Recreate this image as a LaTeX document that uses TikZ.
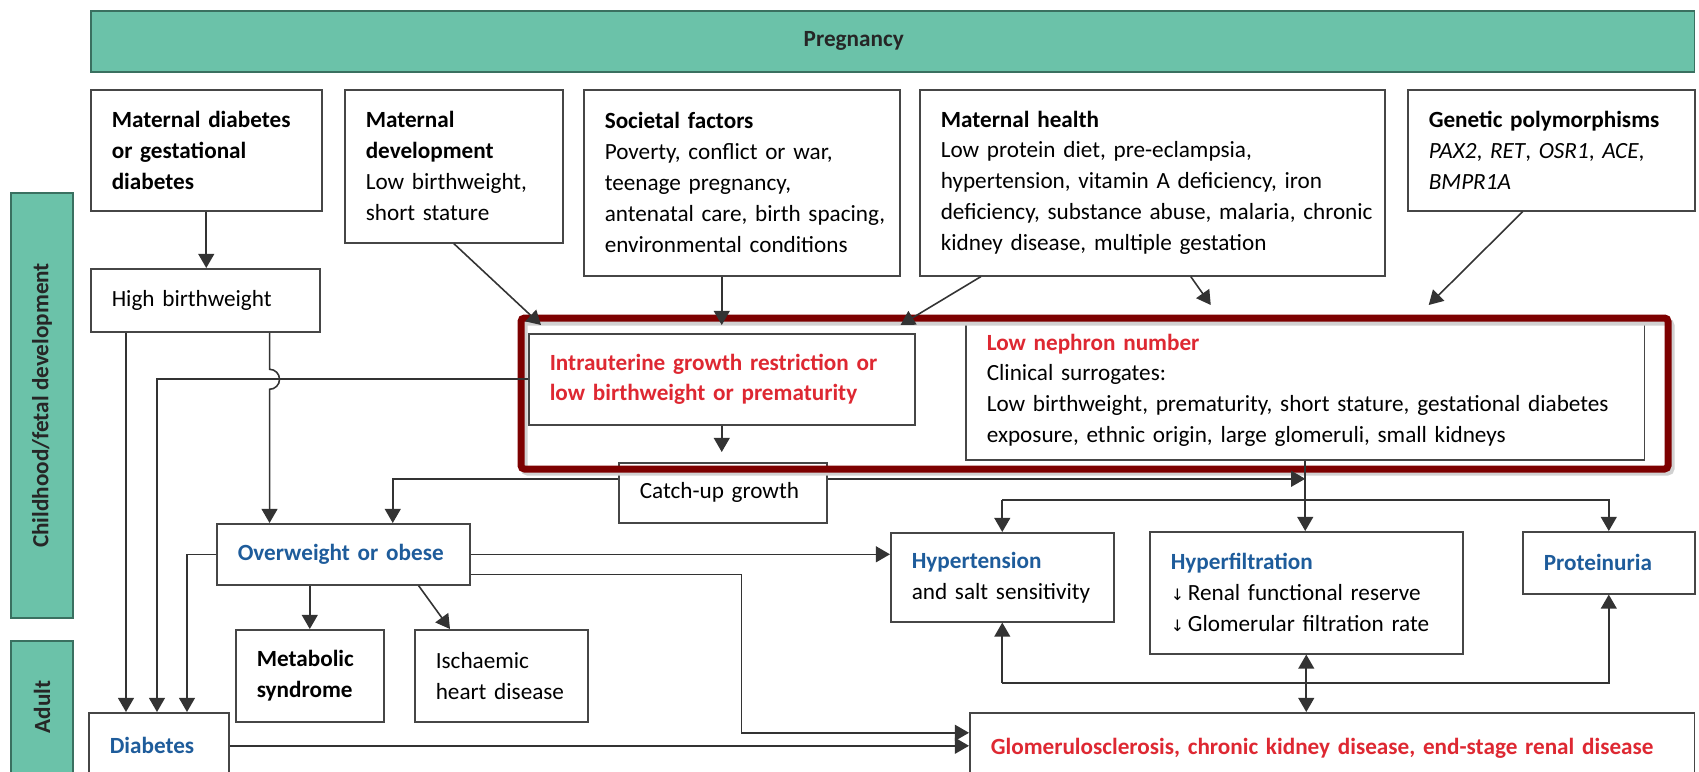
\documentclass[tikz,border=0pt]{standalone}
\usepackage{fontspec}
\setmainfont{Carlito}
\newfontfamily\arrowfont{DejaVu Sans}
\usetikzlibrary{arrows.meta}

\definecolor{tealfill}{RGB}{107,194,169}
\definecolor{tealline}{RGB}{58,112,96}
\definecolor{boxline}{RGB}{70,70,70}
\definecolor{hilite}{RGB}{125,0,0}
\definecolor{redtext}{RGB}{222,40,50}
\definecolor{bluetext}{RGB}{30,92,155}

\newcommand{\hd}[1]{\textbf{#1}}
\newcommand{\dn}{{\arrowfont\small ↓}\,}

\tikzset{
  box/.style={draw=boxline, line width=0.9pt, fill=white, anchor=north west,
    inner xsep=0pt, inner ysep=0pt, align=left, text width=#1,
    execute at begin node={\leftskip=0.42cm\relax},
    font=\fontsize{13.2}{17.6}\selectfont},
  cbox/.style={box=#1, align=center, execute at begin node={}},
  band/.style={draw=tealline, line width=1pt, fill=tealfill, inner sep=0pt,
    text=black!85, font=\bfseries\fontsize{13.2}{15}\selectfont},
  arr/.style={-{Triangle[length=8pt,width=9pt]}, line width=0.9pt, draw=black!80},
  darr/.style={{Triangle[length=8pt,width=9pt]}-{Triangle[length=8pt,width=9pt]},
    line width=0.9pt, draw=black!80},
}

\begin{document}
\begin{tikzpicture}[x=0.02cm, y=-0.02cm]
\useasboundingbox (0,0) rectangle (1699,771);

\node[band, anchor=north west, minimum width=32.08cm, minimum height=1.22cm] (preg) at (90,10) {\kern-1.56cm Pregnancy};
\node[band, rotate=90, minimum width=8.5cm, minimum height=1.24cm] (child) at (42,405.5) {Childhood/fetal development};
\node[band, rotate=90, minimum width=2.64cm, minimum height=1.24cm] (adult) at (42,707) {Adult};

\node[box=4.62cm, minimum height=2.42cm] (md) at (90,89) {\hd{Maternal diabetes}\\\hd{or gestational}\\\hd{diabetes}};
\node[box=4.36cm, minimum height=3.06cm] (mdev) at (344,89) {\hd{Maternal}\\\hd{development}\\Low birthweight,\\short stature};
\node[box=6.32cm, minimum height=3.72cm] (soc) at (583,89) {\hd{Societal factors}\\Poverty, conflict or war,\\teenage pregnancy,\\antenatal care, birth spacing,\\environmental conditions};
\node[box=9.3cm, minimum height=3.72cm] (mh) at (919,89) {\hd{Maternal health}\\Low protein diet, pre-eclampsia,\\hypertension, vitamin A deficiency, iron\\deficiency, substance abuse, malaria, chronic\\kidney disease, multiple gestation};
\node[box=5.74cm, minimum height=2.42cm] (gen) at (1407,89) {\hd{Genetic polymorphisms}\\\textit{PAX2}, \textit{RET}, \textit{OSR1}, \textit{ACE},\\\textit{BMPR1A}};

\node[box=4.58cm, minimum height=1.26cm] (hb) at (90,268) {High birthweight};
\node[box=7.72cm, minimum height=1.82cm, text=redtext] (iugr) at (528,333) {\hd{Intrauterine growth restriction or}\\\hd{low birthweight or prematurity}};
\node[box=13.58cm, minimum height=2.78cm] (ln) at (965,320) {\textcolor{redtext}{\hd{Low nephron number}}\\Clinical surrogates:\\Low birthweight, prematurity, short stature, gestational diabetes\\exposure, ethnic origin, large glomeruli, small kidneys};
\node[cbox=4.16cm, minimum height=1.2cm] (cu) at (618,462) {Catch-up growth};

\node[box=5.06cm, minimum height=1.22cm, text=bluetext] (ow) at (216,523) {\hd{Overweight or obese}};
\node[cbox=2.96cm, minimum height=1.84cm] (met) at (235,629) {\hd{Metabolic}\\\hd{syndrome}};
\node[box=3.46cm, minimum height=1.84cm] (isc) at (414,629) {Ischaemic\\heart disease};
\node[box=2.8cm, minimum height=1.32cm, text=bluetext] (dia) at (88,712) {\hd{Diabetes}};

\node[box=4.46cm, minimum height=1.78cm] (hyt) at (890,532) {\textcolor{bluetext}{\hd{Hypertension}}\\and salt sensitivity};
\node[box=6.26cm, minimum height=2.44cm] (hyf) at (1149,531) {\textcolor{bluetext}{\hd{Hyperfiltration}}\\\dn Renal functional reserve\\\dn Glomerular filtration rate};
\node[cbox=3.44cm, minimum height=1.24cm, text=bluetext] (pro) at (1522,531) {\hd{Proteinuria}};
\node[box=14.5cm, minimum height=1.44cm, text=redtext] (glo) at (969,712) {\hd{Glomerulosclerosis, chronic kidney disease, end-stage renal disease}};

\draw[black!18, line width=0.14cm, rounded corners=2pt] (524,322) rectangle (1671,472);
\draw[hilite, line width=0.14cm, rounded corners=2pt] (521,318) rectangle (1668,469);

\draw[arr] (md.south) -- (md.south |- hb.north);
\draw[arr] (mdev.south) -- ([xshift=0.26cm,yshift=0.16cm]iugr.north west);
\draw[arr] (iugr.north |- soc.south) -- ([yshift=0.16cm]iugr.north);
\draw[arr] ([xshift=1.24cm]mh.south west) -- ([xshift=-0.3cm,yshift=0.16cm]iugr.north east);
\draw[arr] ([xshift=0.77cm]mh.south) -- ([xshift=-1.89cm,yshift=0.3cm]ln.north);
\draw[arr] ([xshift=-0.57cm]gen.south) -- ([xshift=2.47cm,yshift=0.3cm]ln.north);

\draw[arr] (iugr.south) -- ([yshift=0.2cm]iugr.south |- cu.north);
\draw[arr] ([yshift=0.28cm]cu.west) -| ([xshift=0.99cm]ow.north);
\draw[arr] ([yshift=0.28cm]cu.east) -- ([yshift=0.28cm]cu.east -| ln.south);

\coordinate (split) at (ln.south |- 0,500);
\draw[arr] (ln.south) -- (ln.south |- hyf.north);
\draw[arr] (split -| hyt.north) -- (hyt.north);
\draw[arr] (split -| hyt.north) -- (split -| pro.north) -- (pro.north);

\draw[arr] ([xshift=0.76cm]dia.north west |- hb.south) -- ([xshift=0.76cm]dia.north west);
\draw[arr] ([xshift=-1.02cm]hb.south east) -- ([xshift=-1.02cm,yshift=0.2cm]hb.south east |- iugr.west)
  arc[start angle=-90, end angle=90, radius=10] -- ([xshift=-1.02cm]hb.south east |- ow.north);
\draw[arr] (iugr.west) -| ([xshift=1.38cm]dia.north west);
\draw[arr] (ow.west) -| ([xshift=1.98cm]dia.north west);

\draw[arr] (ow.south -| met.north) -- (met.north);
\draw[arr] ([xshift=-1.04cm]ow.south east) -- ([xshift=0.72cm]isc.north west);
\draw[arr] (ow.east) -- (ow.east -| hyt.west);
\draw[arr] ([yshift=-0.4cm]ow.east) -- ++(271,0) |- ([yshift=0.32cm]glo.west);
\draw[arr] (dia.east) -- (dia.east -| glo.west);

\draw[darr] (hyf.south) -- (hyf.south |- glo.north);
\coordinate (merge) at (hyf.south |- 0,683);
\draw[arr] (merge -| hyt.south) -- (hyt.south);
\draw[arr] (merge -| hyt.south) -- (merge -| pro.south) -- (pro.south);
\end{tikzpicture}
\end{document}
